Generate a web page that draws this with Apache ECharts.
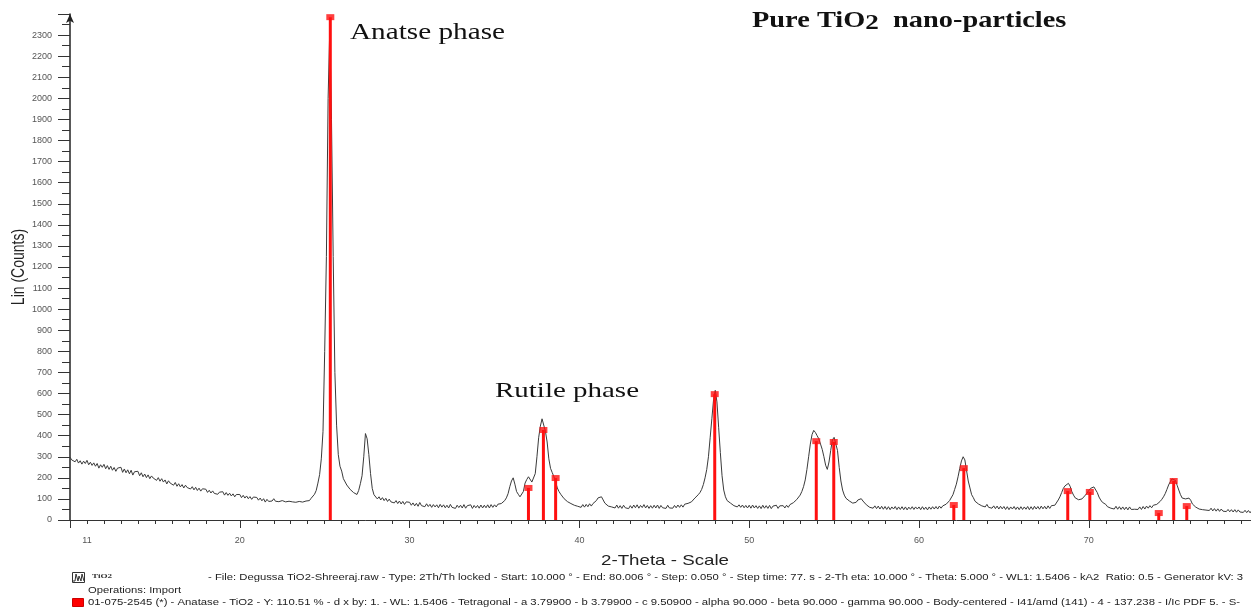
<!DOCTYPE html>
<html>
<head>
<meta charset="utf-8">
<title>Pure TiO2 nano-particles - XRD</title>
<script src="https://cdn.jsdelivr.net/npm/echarts@6/dist/echarts.min.js"></script>
<style>
html, body { margin: 0; padding: 0; background: #ffffff; }
#echarts { width: 1251px; height: 607px; }
</style>
</head>
<body>
<div id="echarts"></div>
<script>
//扫描起点与读数间隔 (2-Theta, °)
var scanStart = 10.0;
var scanStep = 0.1;

//Lin (Counts)，每行一度
var counts = [
  298, 285, 292, 276, 288, 270, 281, 265, 279, 268,   // 10
  283, 262, 274, 259, 271, 255, 268, 246, 262, 250,   // 11
  264, 243, 258, 240, 255, 236, 249, 231, 246, 238,   // 12
  250, 226, 242, 224, 238, 219, 236, 213, 229, 222,   // 13
  231, 210, 224, 205, 218, 201, 214, 196, 209, 199,   // 14
  206, 188, 201, 184, 196, 180, 190, 171, 186, 175,   // 15
  182, 165, 178, 160, 172, 157, 168, 152, 165, 154,   // 16
  163, 147, 158, 143, 155, 140, 151, 137, 148, 139,   // 17
  146, 131, 141, 128, 138, 126, 135, 122, 132, 124,   // 18
  134, 118, 130, 117, 127, 114, 124, 110, 121, 113,   // 19
  121, 106, 117, 104, 114, 101, 111, 98, 109, 100,    // 20
  107, 94, 104, 91, 101, 85, 98, 88, 97, 90,          // 21
  101, 89, 98, 87, 96, 92, 99, 86, 95, 89,            // 22
  97, 86, 94, 84, 92, 88, 96, 85, 93, 90,             // 23
  96, 92, 103, 110, 122, 140, 175, 215, 290, 420,     // 24
  800, 1250, 2000, 2330, 1900, 1250, 700, 450, 310, 255, // 25
  232, 196, 188, 166, 163, 145, 146, 130, 131, 121,   // 26
  140, 172, 210, 300, 410, 385, 310, 220, 150, 120,   // 27
  114, 100, 110, 95, 106, 92, 103, 88, 99, 86,        // 28
  95, 81, 92, 78, 90, 76, 88, 74, 86, 77,             // 29
  84, 70, 81, 67, 79, 65, 83, 68, 76, 63,             // 30
  77, 64, 74, 60, 73, 62, 72, 58, 74, 61,             // 31
  72, 58, 70, 57, 74, 60, 69, 55, 70, 59,             // 32
  70, 57, 73, 56, 68, 59, 72, 55, 69, 58,             // 33
  69, 56, 71, 57, 70, 58, 72, 57, 73, 60,             // 34
  72, 62, 75, 66, 78, 84, 92, 105, 125, 158,          // 35
  185, 200, 170, 135, 122, 110, 115, 135, 175, 192,   // 36
  205, 196, 180, 172, 220, 300, 390, 445, 480, 488,   // 37
  420, 370, 290, 245, 225, 205, 180, 152, 135, 122,   // 38
  114, 101, 99, 87, 88, 78, 80, 70, 74, 65,           // 39
  71, 60, 73, 61, 74, 63, 77, 66, 78, 80,             // 40
  92, 105, 114, 110, 95, 80, 76, 66, 70, 62,          // 41
  69, 57, 71, 56, 68, 55, 70, 58, 67, 54,             // 42
  68, 56, 71, 58, 72, 56, 69, 59, 73, 57,             // 43
  69, 55, 68, 56, 70, 57, 71, 55, 69, 58,             // 44
  67, 55, 70, 57, 66, 56, 69, 58, 71, 60,             // 45
  72, 61, 75, 66, 79, 76, 86, 90, 104, 113,           // 46
  120, 130, 145, 168, 200, 240, 300, 390, 480, 570,   // 47
  615, 560, 440, 320, 210, 142, 110, 92, 84, 80,      // 48
  78, 68, 73, 62, 72, 60, 71, 58, 69, 57,             // 49
  70, 56, 71, 57, 68, 55, 67, 54, 70, 56,             // 50
  68, 55, 69, 54, 66, 57, 70, 55, 67, 58,             // 51
  68, 57, 70, 60, 73, 70, 82, 84, 97, 103,            // 52
  118, 135, 158, 190, 240, 300, 360, 405, 425, 415,   // 53
  400, 385, 360, 335, 300, 260, 240, 275, 330, 380,   // 54
  392, 395, 330, 250, 185, 142, 118, 103, 95, 90,     // 55
  88, 80, 85, 84, 95, 94, 101, 90, 88, 72,            // 56
  74, 60, 68, 56, 67, 54, 66, 52, 65, 51,             // 57
  64, 50, 63, 49, 62, 52, 64, 49, 62, 50,             // 58
  63, 49, 62, 48, 61, 51, 63, 50, 62, 52,             // 59
  62, 49, 63, 50, 61, 48, 62, 51, 63, 52,             // 60
  64, 52, 66, 56, 67, 64, 75, 77, 92, 100,            // 61
  120, 145, 170, 205, 245, 280, 300, 285, 235, 185,   // 62
  152, 120, 106, 89, 87, 76, 78, 67, 73, 62,          // 63
  74, 60, 68, 56, 67, 54, 66, 52, 65, 53,             // 64
  64, 50, 63, 49, 62, 52, 64, 50, 62, 49,             // 65
  63, 50, 62, 51, 64, 49, 63, 50, 65, 52,             // 66
  64, 51, 66, 53, 65, 52, 67, 55, 68, 62,             // 67
  70, 76, 95, 110, 130, 150, 162, 170, 174, 160,      // 68
  135, 118, 105, 98, 96, 95, 100, 108, 118, 128,      // 69
  140, 150, 155, 157, 150, 130, 109, 95, 84, 76,      // 70
  74, 63, 68, 56, 64, 52, 65, 51, 63, 50,             // 71
  62, 49, 61, 48, 62, 50, 59, 51, 58, 50,             // 72
  62, 50, 64, 52, 66, 56, 68, 58, 70, 66,             // 73
  74, 80, 88, 98, 110, 125, 145, 166, 182, 195,       // 74
  200, 188, 165, 142, 120, 104, 95, 100, 108, 104,    // 75
  94, 76, 74, 61, 65, 52, 59, 49, 58, 47,             // 76
  55, 45, 56, 43, 54, 42, 53, 41, 52, 42,             // 77
  51, 40, 50, 39, 49, 38, 49, 37, 48, 38,             // 78
  47, 36, 46, 35, 45, 34, 45, 33, 44, 35              // 79
];

//Anatase 01-075-2545 标准谱线位置与高度
var refAngle  = [25.33, 37.0, 37.88, 38.6, 47.97, 53.95, 54.98, 62.05, 62.64, 68.76, 70.06, 74.12, 75.0, 75.77];
var refCounts = [2385, 152, 427, 199, 597, 374, 370, 71, 246, 137, 133, 33, 185, 66];

//x轴显示的刻度标签
var xLabels = [11, 20, 30, 40, 50, 60, 70];

var chart = echarts.init(document.getElementById('echarts'));

//用于估算文字宽度（原图横向拉伸过）
var measureCtx = document.createElement('canvas').getContext('2d');
function stretch(text, font, width) {
  measureCtx.font = font;
  return width / measureCtx.measureText(text).width;
}

function buildCurve() {
  var data = [];
  for (var i = 0; i < counts.length; i++) {
    data.push([+(scanStart + i * scanStep).toFixed(2), counts[i]]);
  }
  return data;
}

function buildRef() {
  var data = [];
  for (var i = 0; i < refAngle.length; i++) {
    data.push([refAngle[i], refCounts[i]]);
  }
  return data;
}

var serif = "'Liberation Serif', 'DejaVu Serif', serif";
var sans = "'Liberation Sans', Arial, sans-serif";

var fileLine = '- File: Degussa TiO2-Shreeraj.raw - Type: 2Th/Th locked - Start: 10.000 \u00b0 - End: 80.006 \u00b0 - Step: 0.050 \u00b0 - Step time: 77. s - 2-Th eta: 10.000 \u00b0 - Theta: 5.000 \u00b0 - WL1: 1.5406 - kA2  Ratio: 0.5 - Generator kV: 3';
var opLine = 'Operations: Import';
var pdfLine = '01-075-2545 (*) - Anatase - TiO2 - Y: 110.51 % - d x by: 1. - WL: 1.5406 - Tetragonal - a 3.79900 - b 3.79900 - c 9.50900 - alpha 90.000 - beta 90.000 - gamma 90.000 - Body-centered - I41/amd (141) - 4 - 137.238 - I/Ic PDF 5. - S-';

function textItem(text, x, y, font, width, fill) {
  return {
    type: 'text',
    x: x,
    y: y,
    scaleX: stretch(text, font, width),
    style: {
      text: text,
      font: font,
      fill: fill || '#111',
      textAlign: 'left',
      textVerticalAlign: 'middle'
    }
  };
}

function renderChart() {
  chart.setOption({
    backgroundColor: '#ffffff',
    animation: false,
    grid: {
      left: 70,
      top: 14,
      width: 1188.6,
      height: 506,
      outerBoundsMode: 'none'
    },
    xAxis: [
      {
        type: 'value',
        min: 10,
        max: 80,
        interval: 1,
        axisLine: { lineStyle: { color: '#333', width: 1 } },
        axisTick: { length: 4, lineStyle: { color: '#333' } },
        axisLabel: {
          fontSize: 9,
          fontFamily: sans,
          color: '#555',
          margin: 16,
          formatter: function (v) {
            return xLabels.indexOf(v) >= 0 ? String(v) : '';
          }
        },
        splitLine: { show: false }
      },
      {
        //主刻度（每10度）
        type: 'value',
        position: 'bottom',
        min: 10,
        max: 80,
        interval: 10,
        axisLine: { show: false },
        axisTick: { length: 8, lineStyle: { color: '#333' } },
        axisLabel: { show: false },
        splitLine: { show: false }
      }
    ],
    yAxis: {
      type: 'value',
      min: 0,
      max: 2400,
      interval: 100,
      axisLine: {
        show: true,
        symbol: ['none', 'arrow'],
        symbolSize: [6, 9],
        lineStyle: { color: '#222', width: 1.5 }
      },
      axisTick: { show: true, length: 12, lineStyle: { color: '#333' } },
      minorTick: { show: true, splitNumber: 2, length: 8, lineStyle: { color: '#333' } },
      axisLabel: {
        fontSize: 9,
        fontFamily: sans,
        color: '#555',
        margin: 18,
        formatter: function (v) {
          return v > 2300 ? '' : String(v);
        }
      },
      splitLine: { show: false }
    },
    series: [
      {
        name: 'TiO2',
        type: 'line',
        xAxisIndex: 0,
        data: buildCurve(),
        showSymbol: false,
        symbol: 'none',
        lineStyle: { color: '#3a3a3a', width: 1 },
        z: 2
      },
      {
        name: 'Anatase',
        type: 'bar',
        xAxisIndex: 0,
        data: buildRef(),
        barWidth: 3,
        itemStyle: { color: '#ff1010' },
        z: 3
      },
      {
        name: 'Anatase top',
        type: 'scatter',
        xAxisIndex: 0,
        data: buildRef(),
        symbol: 'rect',
        symbolSize: [8, 6],
        itemStyle: { color: '#ff1010' },
        z: 4
      }
    ],
    graphic: [
      textItem('Anatse phase', 350, 33, '23px ' + serif, 155, '#111'),
      {
        type: 'text',
        x: 752,
        y: 21,
        scaleX: stretch('Pure TiO2  nano-particles', 'bold 23px ' + serif, 315),
        style: {
          text: 'Pure TiO{s|2}  nano-particles',
          font: 'bold 23px ' + serif,
          fill: '#111',
          textAlign: 'left',
          textVerticalAlign: 'middle',
          rich: {
            s: { fontSize: 22, fontWeight: 'bold', fontFamily: serif, padding: [5, 0, 0, 0] }
          }
        }
      },
      textItem('Rutile phase', 495, 391, '22px ' + serif, 144, '#111'),
      textItem('2-Theta - Scale', 601, 561, '15px ' + sans, 128, '#222'),
      {
        type: 'text',
        x: 19,
        y: 267,
        rotation: Math.PI / 2,
        scaleY: 1.25,
        style: {
          text: 'Lin (Counts)',
          font: '14px ' + sans,
          fill: '#222',
          textAlign: 'center',
          textVerticalAlign: 'middle'
        }
      },
      //扫描文件图标
      {
        type: 'rect',
        shape: { x: 72.5, y: 572.5, width: 12, height: 10 },
        style: { fill: '#fff', stroke: '#333', lineWidth: 1 }
      },
      {
        type: 'polyline',
        shape: { points: [[73, 581], [75, 581], [76, 574], [78, 581], [79, 576], [81, 581], [82, 574], [84, 581]] },
        style: { fill: null, stroke: '#333', lineWidth: 1 }
      },
      textItem('TiO2', 92, 576, 'bold 7px ' + serif, 20, '#333'),
      textItem(fileLine, 208, 578, '9px ' + sans, 1035, '#222'),
      textItem(opLine, 88, 591, '9px ' + sans, 93, '#222'),
      {
        type: 'rect',
        shape: { x: 72.5, y: 598.5, width: 11, height: 8 },
        style: { fill: '#ff0000', stroke: '#cc0000', lineWidth: 1 }
      },
      textItem(pdfLine, 88, 603, '9px ' + sans, 1152, '#222')
    ]
  });
}

renderChart();
</script>
</body>
</html>
